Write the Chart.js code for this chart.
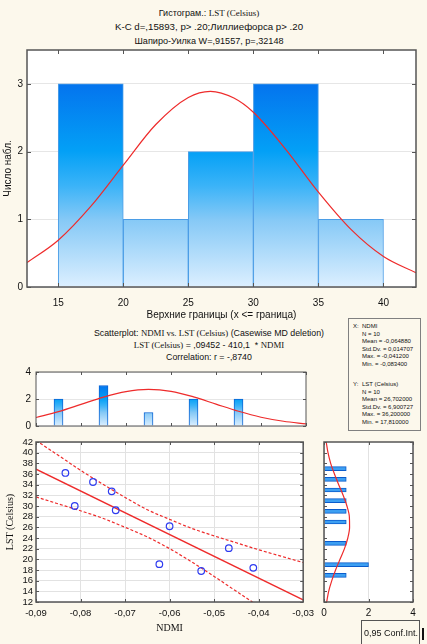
<!DOCTYPE html>
<html>
<head>
<meta charset="utf-8">
<script src="https://cdn.jsdelivr.net/npm/chart.js@4.4.1/dist/chart.umd.min.js"></script>
<style>
    html, body { margin: 0; padding: 0; background: #fcf8ec; }
    body { position: relative; width: 427px; height: 644px; overflow: hidden;
           font-family: 'Liberation Sans', Arial, sans-serif; color: #111; }
    canvas { position: absolute; }
    .t { position: absolute; left: 0; width: 418px; text-align: center; white-space: nowrap; }
    .serif { font-family: 'Liberation Serif', 'Times New Roman', serif; }
    #stats { position: absolute; left: 348px; top: 318px; width: 73px; height: 113px;
             border: 1px solid #808080; box-sizing: border-box; font-size: 6px; line-height: 7.5px;
             padding: 4px 0 0 4px; white-space: nowrap; }
    #stats .k { display: inline-block; width: 9px; }
    #stats .gap { height: 13px; }
    #conf { position: absolute; left: 361px; top: 620px; width: 59px; height: 30px;
            border: 1px solid #555; box-sizing: border-box; font-size: 9px; padding: 7px 0 0 2px;
            white-space: nowrap; }
    #bar { position: absolute; left: 422px; top: 628px; width: 2px; height: 12px; background: #111; }
</style>
</head>
<body>

<div class="t" style="top:7px;font-size:9px;line-height:12px">Гистограм.: <span class="serif">LST (Celsius)</span></div>
<div class="t" style="top:20px;font-size:9.7px;line-height:14px">K-C d=,15893, p&gt; .20;Лиллиефорса p&gt; .20</div>
<div class="t" style="top:35px;font-size:9.1px;line-height:12px">Шапиро-Уилка W=,91557, p=,32148</div>

<div class="t" style="top:327px;font-size:8.8px;line-height:12px">Scatterplot: <span class="serif">NDMI vs. LST (Celsius)</span> (Casewise MD deletion)</div>
<div class="t" style="top:339px;font-size:8.8px;line-height:12px"><span class="serif">LST (Celsius)</span> = ,09452 - 410,1 &nbsp;* <span class="serif">NDMI</span></div>
<div class="t" style="top:351px;font-size:8.8px;line-height:12px">Correlation: r = -,8740</div>

<div id="stats">
    <div><span class="k">X:</span>NDMI</div>
    <div><span class="k"></span>N = 10</div>
    <div><span class="k"></span>Mean = -0,064880</div>
    <div><span class="k"></span>Std.Dv. = 0,014707</div>
    <div><span class="k"></span>Max. = -0,041200</div>
    <div><span class="k"></span>Min. = -0,083400</div>
    <div class="gap"></div>
    <div><span class="k">Y:</span>LST (Celsius)</div>
    <div><span class="k"></span>N = 10</div>
    <div><span class="k"></span>Mean = 26,702000</div>
    <div><span class="k"></span>Std.Dv. = 6,900727</div>
    <div><span class="k"></span>Max. = 36,200000</div>
    <div><span class="k"></span>Min. = 17,810000</div>
</div>

<canvas id="histLst" width="427" height="285" style="left:0;top:40px"></canvas>
<canvas id="histNdmi" width="320" height="76" style="left:0;top:361px"></canvas>
<canvas id="scatter" width="320" height="212" style="left:0;top:432px"></canvas>
<canvas id="histSide" width="117" height="190" style="left:310px;top:432px"></canvas>

<div id="conf">0,95 Conf.Int.</div>
<div id="bar"></div>

<script>
// --- LST histogram (top) ---
const lstBinStart = [15, 20, 25, 30, 35];
const lstBinEnd = [20, 25, 30, 35, 40];
const lstCounts = [3, 1, 2, 3, 1];
const lstTicks = [15, 20, 25, 30, 35, 40];
const lstCountTicks = [0, 1, 2, 3];
// fitted normal curve
const lstCurveX = [12.6, 15, 17.5, 20, 22.5, 25, 26.7, 28.5, 30, 32.5, 35, 37.5, 40, 42.5];
const lstCurveY = [0.36, 0.69, 1.19, 1.80, 2.40, 2.80, 2.89, 2.79, 2.58, 2.03, 1.40, 0.85, 0.45, 0.21];

// --- NDMI histogram (above the scatterplot) ---
const ndmiBinMid = [-0.085, -0.075, -0.065, -0.055, -0.045];
const ndmiCounts = [2, 3, 1, 2, 2];
const ndmiCountTicks = [0, 2, 4];
const ndmiCurveX = [-0.09, -0.085, -0.08, -0.075, -0.07, -0.065, -0.06, -0.055, -0.05, -0.045, -0.04, -0.035, -0.03];
const ndmiCurveY = [0.63, 1.06, 1.60, 2.14, 2.55, 2.71, 2.57, 2.16, 1.62, 1.09, 0.65, 0.35, 0.16];

// --- scatterplot NDMI vs LST ---
const ndmiValues = [-0.0834, -0.0813, -0.0772, -0.0730, -0.0721, -0.0600, -0.0623, -0.0529, -0.0467, -0.0412];
const lstValues = [36.2, 30.0, 34.5, 32.75, 29.2, 26.2, 19.1, 17.81, 22.1, 18.4];
const fitX = [-0.09, -0.03];
const fitY = [36.9, 12.4];
const bandX = [-0.09, -0.085, -0.08, -0.075, -0.07, -0.065, -0.06, -0.055, -0.05, -0.045, -0.04, -0.035, -0.03];
const bandUpper = [42.3, 39.5, 36.7, 34.1, 31.6, 29.3, 27.5, 25.8, 24.4, 23.1, 21.8, 20.6, 19.4];
const bandLower = [31.7, 30.4, 29.1, 27.7, 26.0, 24.2, 22.0, 19.5, 16.8, 14.0, 11.2, 8.3, 5.4];
const ndmiTicks = [-0.09, -0.08, -0.07, -0.06, -0.05, -0.04, -0.03];
const lstAxisTicks = [12, 14, 16, 18, 20, 22, 24, 26, 28, 30, 32, 34, 36, 38, 40, 42];

// --- LST histogram (right side, horizontal) ---
const sideBinMid = [37, 35, 33, 31, 29, 27, 23, 19, 17];
const sideCounts = [1, 1, 1, 1, 1, 1, 1, 2, 1];
const sideCountTicks = [0, 2, 4];
const sideCurveLst = [42, 40, 38, 36, 34, 32, 30, 28, 26, 24, 22, 20, 18, 16, 14, 12];
const sideCurveN = [0.10, 0.18, 0.30, 0.47, 0.66, 0.86, 1.03, 1.14, 1.15, 1.07, 0.92, 0.72, 0.52, 0.35, 0.21, 0.12];

const SANS = "'Liberation Sans', Arial, sans-serif";
const SERIF = "'Liberation Serif', 'Times New Roman', serif";
const RED = '#ee2b2b';

Chart.defaults.font.family = SANS;
Chart.defaults.color = '#111';
Chart.defaults.animation = false;
Chart.defaults.plugins.legend.display = false;
Chart.defaults.plugins.tooltip.enabled = false;

// white plot area, frame and small inner tick marks on every side
const framePlugin = {
    id: 'frame',
    beforeDraw(chart) {
        const a = chart.chartArea;
        chart.ctx.save();
        chart.ctx.fillStyle = '#fff';
        chart.ctx.fillRect(a.left, a.top, a.width, a.height);
        chart.ctx.restore();
    },
    afterDraw(chart, args, opts) {
        const { ctx, chartArea: a, scales } = chart;
        const len = opts.tick || 3;
        ctx.save();
        ctx.strokeStyle = opts.color || '#444';
        ctx.lineWidth = 1;
        ctx.beginPath();
        scales.x.ticks.forEach(t => {
            const px = Math.round(scales.x.getPixelForValue(t.value)) + 0.5;
            ctx.moveTo(px, a.top); ctx.lineTo(px, a.top + len);
            ctx.moveTo(px, a.bottom); ctx.lineTo(px, a.bottom - len);
        });
        scales.y.ticks.forEach(t => {
            const py = Math.round(scales.y.getPixelForValue(t.value)) + 0.5;
            ctx.moveTo(a.left, py); ctx.lineTo(a.left + len, py);
            ctx.moveTo(a.right, py); ctx.lineTo(a.right - len, py);
        });
        ctx.stroke();
        ctx.lineWidth = opts.width || 1;
        ctx.strokeRect(a.left, a.top, a.width, a.height);
        ctx.restore();
    }
};
Chart.register(framePlugin);

const toPoints = (xs, ys) => xs.map((x, i) => ({ x, y: ys[i] }));
const fixTicks = values => scale => { scale.ticks = values.map(v => ({ value: v })); };

// vertical blue gradient, tied to the value axis so short bars stay pale
function blueGradient(topValue) {
    return ctx => {
        const chart = ctx.chart;
        if (!chart.chartArea) return '#2a9af5';
        const y = chart.scales.y;
        const g = chart.ctx.createLinearGradient(0, y.getPixelForValue(topValue), 0, y.getPixelForValue(0));
        g.addColorStop(0, '#0474ee');
        g.addColorStop(0.33, '#03a0f6');
        g.addColorStop(0.5, '#3ab3f8');
        g.addColorStop(0.67, '#86c9f6');
        g.addColorStop(1, '#dcefff');
        return g;
    };
}

// Histogram of LST
new Chart(document.getElementById('histLst'), {
    type: 'bar',
    data: {
        datasets: [{
            type: 'line',
            data: toPoints(lstCurveX, lstCurveY),
            borderColor: RED,
            borderWidth: 1.2,
            pointRadius: 0,
            cubicInterpolationMode: 'monotone'
        }, {
            data: lstBinStart.map((s, i) => ({ x: (s + lstBinEnd[i]) / 2, y: lstCounts[i] })),
            backgroundColor: blueGradient(3),
            borderColor: '#4b9de6',
            borderWidth: 1,
            barPercentage: 1,
            categoryPercentage: 1
        }]
    },
    options: {
        responsive: false,
        devicePixelRatio: 1,
        layout: { padding: { top: 0, right: 11, left: 0, bottom: 0 } },
        plugins: { frame: { width: 1.5, color: '#555', tick: 4 } },
        scales: {
            x: {
                type: 'linear', min: 12.6, max: 42.5, offset: false,
                afterBuildTicks: fixTicks(lstTicks),
                afterFit: s => { s.height = 38; },
                grid: { display: false },
                border: { display: false },
                ticks: { padding: 2, maxRotation: 0, autoSkip: false, font: { size: 10 } },
                title: { display: true, text: 'Верхние границы (x <= граница)', font: { size: 10 }, padding: { top: 0, bottom: 4 } }
            },
            y: {
                min: 0, max: 3.5,
                afterBuildTicks: fixTicks(lstCountTicks),
                afterFit: s => { s.width = 27; },
                grid: { color: '#e6e6e6', drawTicks: false },
                border: { display: false },
                ticks: { padding: 4, autoSkip: false, font: { size: 10 } },
                title: { display: true, text: 'Число набл.', font: { size: 10 }, padding: { top: 2 } }
            }
        }
    }
});

// Histogram of NDMI (above scatter)
new Chart(document.getElementById('histNdmi'), {
    type: 'bar',
    data: {
        datasets: [{
            type: 'line',
            data: toPoints(ndmiCurveX, ndmiCurveY),
            borderColor: RED,
            borderWidth: 1.2,
            pointRadius: 0,
            cubicInterpolationMode: 'monotone'
        }, {
            data: ndmiBinMid.map((m, i) => ({ x: m, y: ndmiCounts[i] })),
            backgroundColor: blueGradient(3),
            borderColor: '#0a64d4',
            borderWidth: 1,
            barThickness: 9
        }]
    },
    options: {
        responsive: false,
        devicePixelRatio: 1,
        layout: { padding: { top: 11, right: 14, left: 0, bottom: 0 } },
        plugins: { frame: { color: '#555', tick: 3 } },
        scales: {
            x: {
                type: 'linear', min: -0.09, max: -0.03, offset: false,
                afterBuildTicks: fixTicks(ndmiTicks),
                afterFit: s => { s.height = 11; },
                grid: { display: false },
                border: { display: false },
                ticks: { display: false }
            },
            y: {
                min: 0, max: 4,
                afterBuildTicks: fixTicks(ndmiCountTicks),
                afterFit: s => { s.width = 36; },
                grid: { color: '#e6e6e6', drawTicks: false },
                border: { display: false },
                ticks: { padding: 5, autoSkip: false, font: { size: 10 } }
            }
        }
    }
});

// Scatterplot with regression line and 95% bands
new Chart(document.getElementById('scatter'), {
    type: 'scatter',
    data: {
        datasets: [{
            data: toPoints(ndmiValues, lstValues),
            pointRadius: 3.3,
            pointBorderWidth: 1.2,
            borderColor: '#2f3cf0',
            backgroundColor: 'rgba(0,0,0,0)'
        }, {
            data: toPoints(fitX, fitY),
            showLine: true,
            borderColor: RED,
            borderWidth: 1.5,
            pointRadius: 0
        }, {
            data: toPoints(bandX, bandUpper),
            showLine: true,
            borderColor: RED,
            borderWidth: 1.2,
            borderDash: [3, 2],
            pointRadius: 0,
            cubicInterpolationMode: 'monotone'
        }, {
            data: toPoints(bandX, bandLower),
            showLine: true,
            borderColor: RED,
            borderWidth: 1.2,
            borderDash: [3, 2],
            pointRadius: 0,
            cubicInterpolationMode: 'monotone'
        }]
    },
    options: {
        responsive: false,
        devicePixelRatio: 1,
        layout: { padding: { top: 10, right: 14, left: 0, bottom: 0 } },
        plugins: { frame: { width: 1.5, color: '#555', tick: 3 } },
        scales: {
            x: {
                type: 'linear', min: -0.09, max: -0.03,
                afterBuildTicks: fixTicks(ndmiTicks),
                afterFit: s => { s.height = 42; },
                grid: { color: '#e2e2e2', drawTicks: false },
                border: { display: false },
                ticks: { padding: 6, maxRotation: 0, autoSkip: false, font: { size: 9.5 },
                         callback: v => v.toFixed(2).replace('.', ',') },
                title: { display: true, text: 'NDMI', font: { family: SERIF, size: 10 }, padding: { top: 0, bottom: 10 } }
            },
            y: {
                min: 12, max: 42,
                afterBuildTicks: fixTicks(lstAxisTicks),
                afterFit: s => { s.width = 36; },
                grid: { color: '#e2e2e2', drawTicks: false },
                border: { display: false },
                ticks: { padding: 3, autoSkip: false, font: { size: 9.5 } },
                title: { display: true, text: 'LST (Celsius)', font: { family: SERIF, size: 10 }, padding: { top: 4 } }
            }
        }
    }
});

// Histogram of LST (right, horizontal)
new Chart(document.getElementById('histSide'), {
    type: 'bar',
    data: {
        datasets: [{
            type: 'line',
            data: toPoints(sideCurveN, sideCurveLst),
            borderColor: RED,
            borderWidth: 1.2,
            pointRadius: 0,
            cubicInterpolationMode: 'monotone'
        }, {
            data: sideBinMid.map((m, i) => ({ x: sideCounts[i], y: m })),
            backgroundColor: '#3d9ff2',
            borderColor: '#0a5ccc',
            borderWidth: 1,
            barThickness: 4
        }]
    },
    options: {
        indexAxis: 'y',
        responsive: false,
        devicePixelRatio: 1,
        layout: { padding: { top: 10, right: 14, left: 0, bottom: 0 } },
        plugins: { frame: { width: 1.5, color: '#555', tick: 3 } },
        scales: {
            x: {
                type: 'linear', min: 0, max: 4,
                afterBuildTicks: fixTicks(sideCountTicks),
                afterFit: s => { s.height = 20; },
                grid: { color: '#e2e2e2', drawTicks: false },
                border: { display: false },
                ticks: { padding: 5, maxRotation: 0, autoSkip: false, font: { size: 10 } }
            },
            y: {
                type: 'linear', min: 12, max: 42, offset: false,
                afterBuildTicks: fixTicks(lstAxisTicks),
                afterFit: s => { s.width = 14; },
                grid: { display: false },
                border: { display: false },
                ticks: { display: false }
            }
        }
    }
});
</script>
</body>
</html>
